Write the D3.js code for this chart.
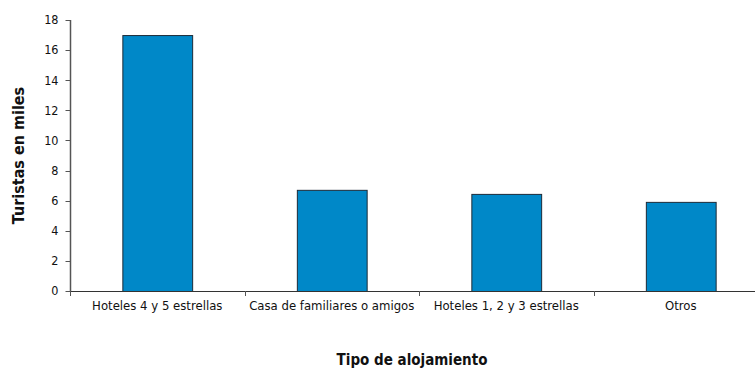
<!DOCTYPE html>
<html>
<head>
<meta charset="utf-8">
<script src="https://cdn.jsdelivr.net/npm/d3@7"></script>
<style>
  body { margin: 0; background: #fff; }
  text { font-family: "DejaVu Sans Condensed", "DejaVu Sans", sans-serif; fill: #111; }
</style>
</head>
<body>
<div id="chart"></div>
<script>
var categories = ["Hoteles 4 y 5 estrellas", "Casa de familiares o amigos", "Hoteles 1, 2 y 3 estrellas", "Otros"];
var values = [17.0, 6.72, 6.45, 5.92];
var yTicks = [0, 2, 4, 6, 8, 10, 12, 14, 16, 18];

var width = 755, height = 368;
var plotLeft = 70, plotRight = 768, plotTop = 20, plotBottom = 291;

var svg = d3.select("#chart").append("svg")
    .attr("width", width)
    .attr("height", height);

var x = d3.scaleBand().domain(categories).range([plotLeft, plotRight]).paddingInner(0).paddingOuter(0);
var y = d3.scaleLinear().domain([0, 18]).range([plotBottom, plotTop]);

var barW = x.bandwidth() * 0.4;

svg.selectAll("rect.bar").data(values).enter().append("rect")
    .attr("class", "bar")
    .attr("x", function(d, i) { return x(categories[i]) + (x.bandwidth() - barW) / 2 + 0.5; })
    .attr("y", function(d) { return y(d) + 0.5; })
    .attr("width", barW)
    .attr("height", function(d) { return plotBottom - y(d); })
    .attr("fill", "#0088c8")
    .attr("stroke", "#1c2b38")
    .attr("stroke-width", 1);

// y axis
var yAxis = svg.append("g").attr("transform", "translate(" + (plotLeft + 0.5) + ",0)");
yAxis.append("line")
    .attr("x1", 0).attr("x2", 0)
    .attr("y1", y(18)).attr("y2", y(0))
    .attr("stroke", "#555").attr("stroke-width", 1.5);
yAxis.selectAll("line.tick").data(yTicks).enter().append("line")
    .attr("x1", -5).attr("x2", 0)
    .attr("y1", function(d) { return Math.round(y(d)) + 0.5; })
    .attr("y2", function(d) { return Math.round(y(d)) + 0.5; })
    .attr("stroke", "#555");
yAxis.selectAll("text").data(yTicks).enter().append("text")
    .attr("x", -12)
    .attr("y", function(d) { return y(d); })
    .attr("dy", "0.35em")
    .attr("text-anchor", "end")
    .attr("font-size", "12.5px")
    .text(function(d) { return d; });

// x axis
var xAxis = svg.append("g");
xAxis.append("line")
    .attr("x1", plotLeft).attr("x2", plotRight)
    .attr("y1", plotBottom + 0.5).attr("y2", plotBottom + 0.5)
    .attr("stroke", "#333").attr("stroke-width", 1.2);
var bounds = categories.map(function(c) { return x(c); });
xAxis.selectAll("line.tick").data(bounds).enter().append("line")
    .attr("x1", function(d) { return Math.round(d) + 0.5; })
    .attr("x2", function(d) { return Math.round(d) + 0.5; })
    .attr("y1", plotBottom).attr("y2", plotBottom + 5)
    .attr("stroke", "#555");
xAxis.selectAll("text").data(categories).enter().append("text")
    .attr("x", function(d) { return x(d) + x.bandwidth() / 2; })
    .attr("y", plotBottom + 19)
    .attr("text-anchor", "middle")
    .attr("font-size", "13px")
    .text(function(d) { return d; });

// titles
svg.append("text")
    .attr("transform", "translate(24," + ((plotTop + plotBottom) / 2) + ") rotate(-90)")
    .attr("text-anchor", "middle")
    .attr("font-size", "16px")
    .attr("font-weight", "bold")
    .text("Turistas en miles");

svg.append("text")
    .attr("x", 412)
    .attr("y", 365)
    .attr("text-anchor", "middle")
    .attr("font-size", "15px")
    .attr("font-weight", "bold")
    .text("Tipo de alojamiento");
</script>
</body>
</html>
